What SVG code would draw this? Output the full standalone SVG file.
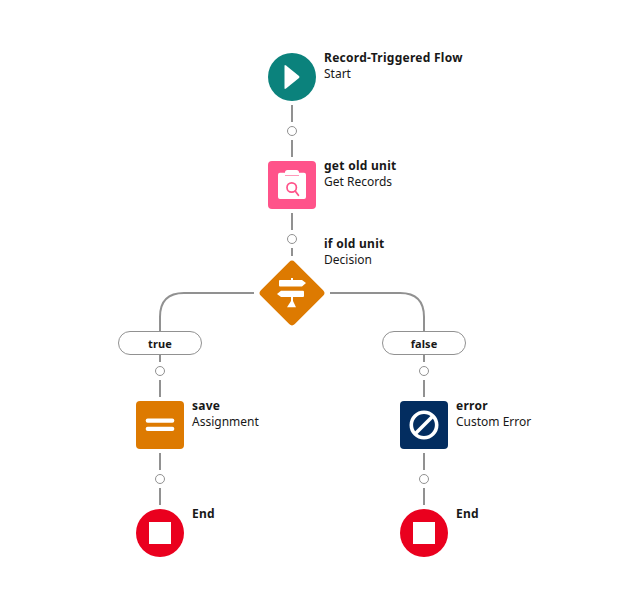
<svg xmlns="http://www.w3.org/2000/svg" width="630" height="607" viewBox="0 0 630 607">
<style>
.c{fill:none;stroke:#919191;stroke-width:2}
.d{fill:#fff;stroke:#919191;stroke-width:1}
text{font-family:"Noto Sans","Open Sans","Liberation Sans",sans-serif;font-size:12px;fill:#181818}
.t{font-weight:700;letter-spacing:.27px}
.p{font-size:11px;letter-spacing:.1px}
.w{fill:#fff}
</style>
<rect width="630" height="607" fill="#fff"/>
<g id="connectors">
<path class="c" d="M292 105V122M292 140V157M292 213V230M292 248V256"/>
<path class="c" d="M254 293H184Q160 293 160 317V331M330 293H400Q424 293 424 317V331"/>
<path class="c" d="M160 355V362M160 380V397M160 453V470M160 488V505M424 355V362M424 380V397M424 453V470M424 488V505"/>
<circle class="d" cx="292" cy="131" r="4.500"/>
<circle class="d" cx="292" cy="239" r="4.500"/>
<circle class="d" cx="160" cy="371" r="4.500"/>
<circle class="d" cx="160" cy="479" r="4.500"/>
<circle class="d" cx="424" cy="371" r="4.500"/>
<circle class="d" cx="424" cy="479" r="4.500"/>
</g>
<g id="start">
<circle cx="292" cy="77" r="24" fill="#0b827c"/>
<path class="w" d="M284.500 66Q284.500 64.500 286 65.500L299 76Q300 77 299 78L286 88.500Q284.500 89.500 284.500 88Z"/>
<text class="t" x="324" y="62">Record-Triggered Flow</text>
<text x="324" y="78">Start</text>
</g>
<g id="get-old-unit">
<rect x="268" y="161" width="48" height="48" rx="4" fill="#ff538a"/>
<path class="w" d="M280 172.800H285V172.500Q285 170 287.500 170H296.500Q299 170 299 172.500V172.800H304Q306 172.800 306 174.800V197Q306 199 304 199H280Q278 199 278 197V174.800Q278 172.800 280 172.800Z"/>
<rect x="285" y="175" width="14" height="1" fill="#ff538a" opacity=".6"/>
<circle cx="291.700" cy="187.500" r="4.700" fill="none" stroke="#ff538a" stroke-width="1.700"/>
<path d="M295.200 191L298.400 195.200" stroke="#ff538a" stroke-width="1.800" stroke-linecap="round"/>
<text class="t" x="324" y="170">get old unit</text>
<text x="324" y="186">Get Records</text>
</g>
<g id="if-old-unit">
<rect x="268" y="269" width="48" height="48" rx="4" fill="#dd7a01" transform="rotate(45 292 293)"/>
<path class="w" d="M280 280H291V278H293V280H302L306 283L302 286.500H280Q279 286.500 279 285.500V281Q279 280 280 280Z"/>
<path class="w" d="M303 290.700Q304 290.700 304 291.700V296Q304 297 303 297H281L277 294L281 290.700Z"/>
<path class="w" d="M291 297H293V301H291Z"/>
<path class="w" d="M291 301H293L296 307.300H287Z"/>
<text class="t" x="324" y="248">if old unit</text>
<text x="324" y="264">Decision</text>
</g>
<g id="true-label">
<rect x="118.500" y="331.500" width="83" height="23" rx="11.500" fill="#fff" stroke="#919191"/>
<text class="t p" x="160" y="348" text-anchor="middle">true</text>
</g>
<g id="false-label">
<rect x="382.500" y="331.500" width="83" height="23" rx="11.500" fill="#fff" stroke="#919191"/>
<text class="t p" x="424" y="348" text-anchor="middle">false</text>
</g>
<g id="save">
<rect x="136" y="401" width="48" height="48" rx="4" fill="#dd7a01"/>
<rect class="w" x="145.700" y="418.400" width="28.600" height="4.300" rx="2"/>
<rect class="w" x="145.700" y="426.700" width="28.600" height="4.300" rx="2"/>
<text class="t" x="192" y="410">save</text>
<text x="192" y="426">Assignment</text>
</g>
<g id="error">
<rect x="400" y="401" width="48" height="48" rx="4" fill="#032d60"/>
<circle cx="424" cy="425" r="12.700" fill="none" stroke="#fff" stroke-width="3.600"/>
<path d="M415 434L433 416" stroke="#fff" stroke-width="3.600"/>
<text class="t" x="456" y="410">error</text>
<text x="456" y="426">Custom Error</text>
</g>
<g id="end-1">
<circle cx="160" cy="533" r="24" fill="#ea001e"/>
<rect class="w" x="149" y="522" width="22" height="22"/>
<text class="t" x="192" y="518">End</text>
</g>
<g id="end-2">
<circle cx="424" cy="533" r="24" fill="#ea001e"/>
<rect class="w" x="413" y="522" width="22" height="22"/>
<text class="t" x="456" y="518">End</text>
</g>
</svg>
